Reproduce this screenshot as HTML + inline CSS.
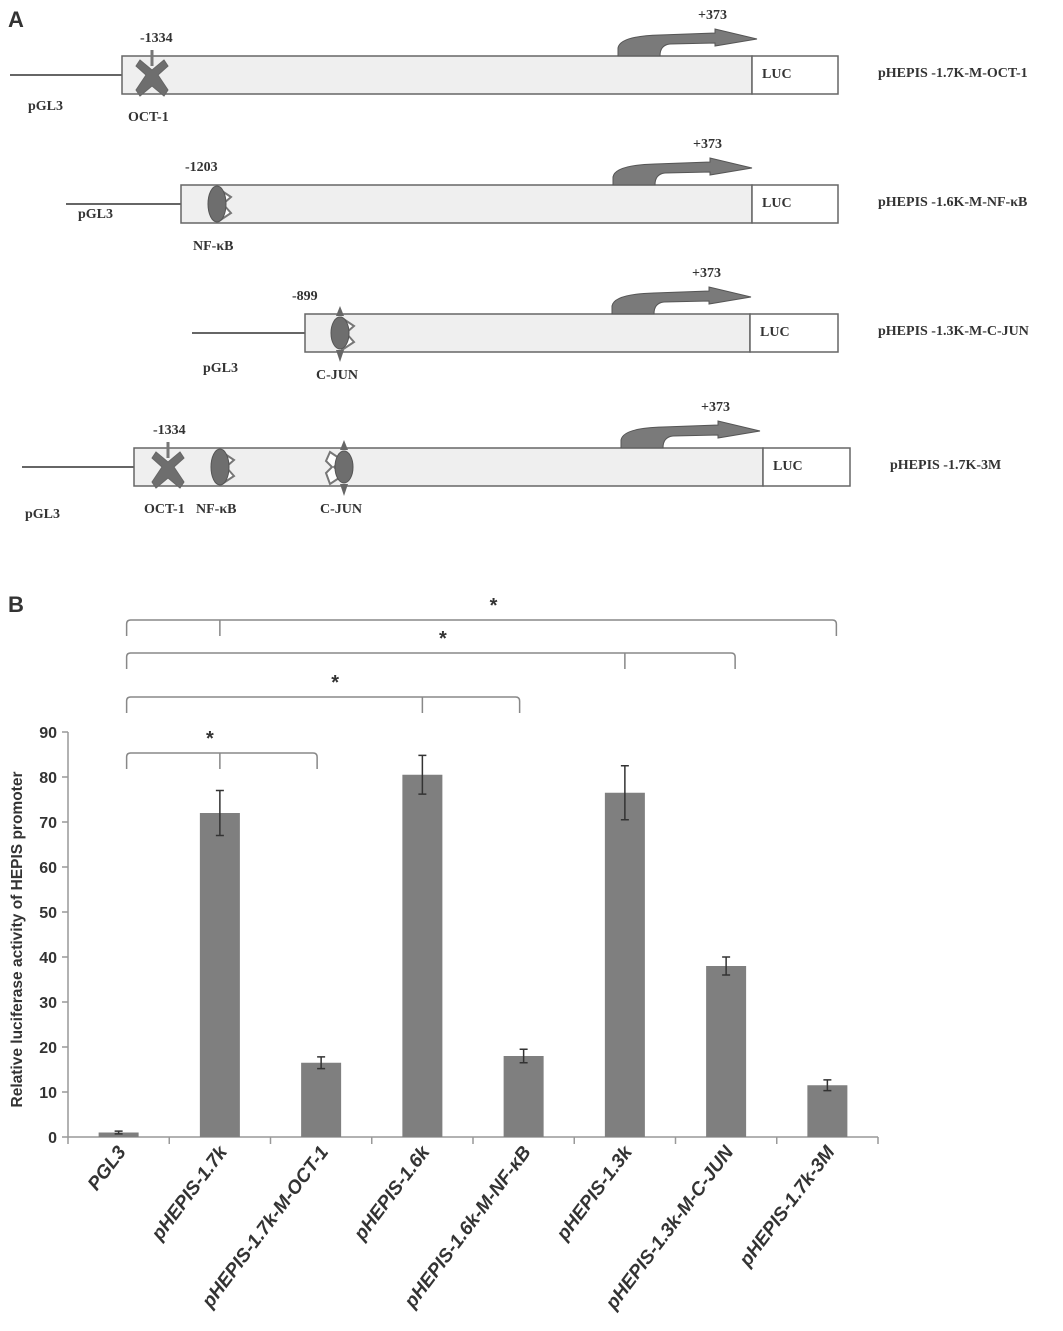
<!DOCTYPE html>
<html><head><meta charset="utf-8"><style>
html,body{margin:0;padding:0;background:#fff;}
svg{display:block;}
.s{font-family:"Liberation Serif",serif;font-weight:bold;font-size:14px;fill:#333;}
.a{font-family:"Liberation Sans",sans-serif;font-weight:bold;fill:#333;}
</style></head><body>
<svg id="fig" width="1063" height="1331" viewBox="0 0 1063 1331" xmlns="http://www.w3.org/2000/svg">
<text x="8" y="27" class="a" font-size="22">A</text>
<g id="constructs"></g>
<text x="8" y="612" class="a" font-size="22">B</text>
<g id="chart"></g>
</svg>
<script>
const NS="http://www.w3.org/2000/svg";
function mk(parent,tag,attrs,txt){const e=document.createElementNS(NS,tag);for(const k in attrs)e.setAttribute(k,attrs[k]);if(txt!==undefined)e.textContent=txt;parent.appendChild(e);return e;}

/* ---------- Panel A ---------- */
const cons=document.getElementById('constructs');
const constructs=[
 {name:'pHEPIS -1.7K-M-OCT-1',lx:10,bx:122,by:56,lucx:752,end:838,arr:618,pos:'-1334',posx:140,pglx:28,pgly:110,sites:[['OCT-1',152,'x']]},
 {name:'pHEPIS -1.6K-M-NF-\u03baB',lx:66,bx:181,by:185,lucx:752,end:838,arr:613,pos:'-1203',posx:185,pglx:78,pgly:218,sites:[['NF-\u03baB',217,'n']]},
 {name:'pHEPIS -1.3K-M-C-JUN',lx:192,bx:305,by:314,lucx:750,end:838,arr:612,pos:'-899',posx:292,pglx:203,pgly:372,sites:[['C-JUN',340,'c']]},
 {name:'pHEPIS -1.7K-3M',lx:22,bx:134,by:448,lucx:763,end:850,arr:621,pos:'-1334',posx:153,pglx:25,pgly:518,sites:[['OCT-1',168,'x'],['NF-\u03baB',220,'n'],['C-JUN',344,'c2']]}
];
constructs.forEach((c,i)=>{
 const g=mk(cons,'g',{});
 
 
 const h=38,my=c.by+h/2;
 mk(g,'line',{x1:c.lx,y1:my,x2:c.bx,y2:my,stroke:'#666','stroke-width':2});
 mk(g,'rect',{x:c.bx,y:c.by,width:c.lucx-c.bx,height:h,fill:'#efefef',stroke:'#666','stroke-width':1.5});
 mk(g,'rect',{x:c.lucx,y:c.by,width:c.end-c.lucx,height:h,fill:'#fff',stroke:'#666','stroke-width':1.5});
 mk(g,'text',{x:c.lucx+10,y:c.by+22,class:'s'},'LUC');
 mk(g,'text',{x:c.end+40,y:c.by+21,class:'s','font-size':15},c.name);
 mk(g,'text',{x:c.posx,y:c.by-14,class:'s'},c.pos);
 mk(g,'text',{x:c.pglx,y:c.pgly,class:'s'},'pGL3');
 mk(g,'text',{x:c.arr+80,y:c.by-37,class:'s'},'+373');
 const a=c.arr,y=c.by;
 mk(g,'path',{d:`M${a},${y} L${a},${y-8} Q${a+2},${y-20} ${a+42},${y-21} L${a+97},${y-23} L${a+97},${y-27} L${a+139},${y-17} L${a+97},${y-10} L${a+97},${y-13} L${a+52},${y-12} Q${a+42},${y-11} ${a+42},${y} Z`,fill:'#7a7a7a',stroke:'#555','stroke-width':1});
 c.sites.forEach(s=>{
  const x=s[1];
  if(s[2]==='x'){
   mk(g,'path',{d:`M${x-12},${y+4} L${x},${y+14} L${x+12},${y+4} L${x+16},${y+10} L${x+6},${my} L${x+16},${y+h-4} L${x+12},${y+h+2} L${x},${y+h-8} L${x-12},${y+h+2} L${x-16},${y+h-4} L${x-6},${my} L${x-16},${y+10} Z`,fill:'#6e6e6e',stroke:'#666'});
   mk(g,'line',{x1:x,y1:y-6,x2:x,y2:y+10,stroke:'#777','stroke-width':3});
  } else {
   const ox=s[2]==='c2'?-8:8;
   mk(g,'path',{d:`M${x+ox-6},${y+4} L${x+ox+6},${y+12} L${x+ox-2},${my} L${x+ox+6},${y+h-10} L${x+ox-6},${y+h-2} L${x+ox-10},${my+6} L${x+ox-4},${my} L${x+ox-10},${my-6} Z`,fill:'#fff',stroke:'#777','stroke-width':2});
   mk(g,'ellipse',{cx:x,cy:my,rx:9,ry:s[2]==='n'?18:16,fill:'#6e6e6e',stroke:'#555'});
   if(s[2]!=='n'){mk(g,'path',{d:`M${x-4},${y+2} L${x},${y-8} L${x+4},${y+2} Z M${x-4},${y+h-2} L${x},${y+h+10} L${x+4},${y+h-2} Z`,fill:'#666'});}
  }
  mk(g,'text',{x:x-(s[0].length*4.8),y:y+h+27,class:'s'},s[0]);
 });
});

/* ---------- Panel B chart ---------- */
const categories=['PGL3','pHEPIS-1.7k','pHEPIS-1.7k-M-OCT-1','pHEPIS-1.6k','pHEPIS-1.6k-M-NF-\u03baB','pHEPIS-1.3k','pHEPIS-1.3k-M-C-JUN','pHEPIS-1.7k-3M'];
const values=[1,72,16.5,80.5,18,76.5,38,11.5];
const errors=[0.3,5,1.3,4.3,1.5,6,2,1.2];
const yTicks=[0,10,20,30,40,50,60,70,80,90];
const brackets=[[0,1,7],[0,5,6],[0,3,4],[0,1,2]]; /* start, middle tick, end */
const bracketLevels=[0,1,2,3];

const ch=document.getElementById('chart');
const X0=68,X1=878,Y0=1137,YT=732,YMAX=90;
const bw=(X1-X0)/categories.length;
const xc=i=>X0+bw*(i+0.5);
const yv=v=>Y0-(v/YMAX)*(Y0-YT);

const ax=mk(ch,'line',{x1:X0,y1:YT,x2:X0,y2:Y0,stroke:'#999','stroke-width':1.5});


const xa=mk(ch,'line',{x1:X0,y1:Y0,x2:X1,y2:Y0,stroke:'#999','stroke-width':1.5});


yTicks.forEach(t=>{
 mk(ch,'line',{x1:X0-6,y1:yv(t),x2:X0,y2:yv(t),stroke:'#999','stroke-width':1.5});
 const tl=mk(ch,'text',{x:X0-11,y:yv(t)+6,'text-anchor':'end',class:'a','font-size':16},String(t));
 
 
});
for(let i=0;i<=categories.length;i++){mk(ch,'line',{x1:X0+bw*i,y1:Y0,x2:X0+bw*i,y2:Y0+7,stroke:'#999','stroke-width':1.5});}
const yt=mk(ch,'text',{transform:`translate(22,${(YT+Y0)/2+5}) rotate(-90)`,'text-anchor':'middle',class:'a','font-size':15.5},'Relative luciferase activity of HEPIS promoter');



values.forEach((v,i)=>{
 const b=mk(ch,'rect',{x:xc(i)-20,y:yv(v),width:40,height:Y0-yv(v),fill:'#7f7f7f'});
 
 
 const e=errors[i],cx=xc(i);
 const eb=mk(ch,'path',{d:`M${cx},${yv(v+e)} V${yv(v-e)} M${cx-4},${yv(v+e)} H${cx+4} M${cx-4},${yv(v-e)} H${cx+4}`,stroke:'#333','stroke-width':1.5,fill:'none'});
 
 
 const lbl=mk(ch,'text',{transform:`translate(${cx+8},${Y0+15}) rotate(-53)`,'text-anchor':'end',class:'a','font-size':19,'font-style':'italic'},categories[i]);
 
 
});

const levelY=[620,653,697,753];
const endOffsets=[9,9,-4,-4];
brackets.forEach((br,k)=>{
 const y=levelY[bracketLevels[k]];
 const a=xc(br[0])+8,m=xc(br[1]),e=xc(br[2])+endOffsets[k];
 const p=mk(ch,'path',{d:`M${a},${y+16} V${y+4} Q${a},${y} ${a+4},${y} H${e-4} Q${e},${y} ${e},${y+4} V${y+16} M${m},${y} V${y+16}`,stroke:'#888','stroke-width':1.5,fill:'none'});
 
 
 const sx=k===3?m-10:(a+e)/2+12;
 const st=mk(ch,'text',{x:sx,y:y-8,'text-anchor':'middle',class:'a','font-size':20},'*');
 
 
});
</script>
</body></html>
